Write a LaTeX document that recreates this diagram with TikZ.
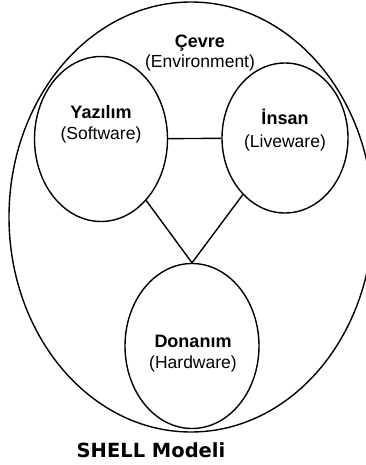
\documentclass[tikz,border=0pt]{standalone}
\usepackage{fontspec}
\setmainfont{Liberation Sans}
\newfontfamily\titlefont{DejaVu Sans}
\usetikzlibrary{shapes.geometric}
\begin{document}
\begin{tikzpicture}[x=1pt,y=-1pt,
  oval/.style={ellipse,draw,line width=1.4pt,inner sep=0pt},
  link/.style={line width=1.4pt},
  head/.style={anchor=base,font=\fontsize{18}{20}\selectfont\bfseries},
  sub/.style={anchor=base,font=\fontsize{17.5}{20}\selectfont}]
\useasboundingbox (0,0) rectangle (366,465);
\begin{scope}
\clip (0,0) rectangle (366,465);
\node[oval,minimum width=364pt,minimum height=430pt] (env) at (191,217) {};
\end{scope}
\node[oval,minimum width=133pt,minimum height=165pt] (yaz) at (101,139) {};
\node[oval,minimum width=126pt,minimum height=150pt] (ins) at (285,138) {};
\node[oval,minimum width=134pt,minimum height=165pt] (don) at (192,346) {};
\draw[link] (yaz) -- (ins);
\draw[link] (yaz) -- (don.north);
\draw[link] (ins) -- (don.north);
\node[head] (t1) at (200,48) {Çevre};
\node[sub] (t2) at (200,68) {(Environment)};
\node[head] (t3) at (101,119) {Yazılım};
\node[sub] (t4) at (101,140) {(Software)};
\node[head] (t5) at (285,125) {İnsan};
\node[sub] (t6) at (285,148) {(Liveware)};
\node[head] (t7) at (193,347) {Donanım};
\node[sub] (t8) at (193,368) {(Hardware)};
\node[anchor=base,font=\titlefont\fontsize{19.5}{22}\selectfont\bfseries] (title) at (151,457) {SHELL Modeli};
\end{tikzpicture}
\end{document}
